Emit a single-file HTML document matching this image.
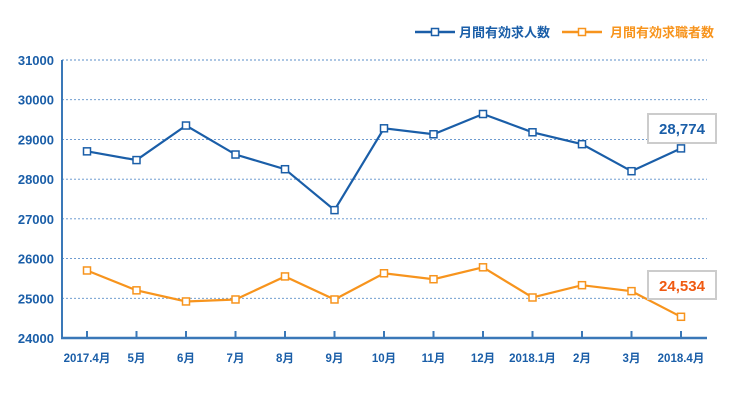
<!DOCTYPE html>
<html><head><meta charset="utf-8"><style>
body{margin:0;background:#fff;}
svg{display:block;font-family:"Liberation Sans","Noto Sans CJK JP",sans-serif;}
</style></head><body>
<svg width="740" height="400">
<g id="grid"></g><g id="axes"></g><g id="series"></g>
<g>
<g>
<line x1="415" y1="32" x2="455" y2="32" stroke="#1a5ea8" stroke-width="2.5"/>
<rect x="431.5" y="28.5" width="7" height="7" fill="#fff" stroke="#1a5ea8" stroke-width="1.5"/>
<text x="459" y="37" font-size="13" font-weight="bold" fill="#1a5ea8">月間有効求人数</text></g>
<g>
<line x1="562" y1="32" x2="602" y2="32" stroke="#f7941d" stroke-width="2.5"/>
<rect x="578.5" y="28.5" width="7" height="7" fill="#fff" stroke="#f7941d" stroke-width="1.5"/>
<text x="610" y="37" font-size="13" font-weight="bold" fill="#f7941d">月間有効求職者数</text></g>
</g>
<g>
<rect x="648" y="114" width="68" height="29" fill="#fff" stroke="#ccc" stroke-width="2"/>
<text x="682" y="134" text-anchor="middle" font-size="15" font-weight="bold" fill="#1a5ea8">28,774</text></g>
<g>
<rect x="648" y="271" width="68" height="28" fill="#fff" stroke="#ccc" stroke-width="2"/>
<text x="682" y="291" text-anchor="middle" font-size="15" font-weight="bold" fill="#f05a12">24,534</text></g>
</svg>
<script>
const categories=["2017.4月","5月","6月","7月","8月","9月","10月","11月","12月","2018.1月","2月","3月","2018.4月"];
const jobs=[28700,28480,29350,28620,28250,27220,29280,29130,29640,29180,28880,28200,28774];
const seekers=[25700,25200,24920,24970,25550,24970,25630,25480,25780,25020,25330,25180,24534];
const yTicks=[24000,25000,26000,27000,28000,29000,30000,31000];
const NS="http://www.w3.org/2000/svg";
const x0=62,x1=707,yBot=338,yTop=60,vMin=24000,vMax=31000;
const xs=i=>87+i*(681-87)/(categories.length-1);
const ys=v=>yBot-(v-vMin)/(vMax-vMin)*(yBot-yTop);
function mk(tag,attrs,parent){const e=document.createElementNS(NS,tag);for(const k in attrs)e.setAttribute(k,attrs[k]);parent.appendChild(e);return e;}
const grid=document.getElementById('grid'),axes=document.getElementById('axes'),ser=document.getElementById('series');
yTicks.forEach(v=>{
 if(v>vMin){const l=mk('line',{x1:x0,x2:x1,y1:ys(v),y2:ys(v),stroke:'#5b8fc9','stroke-width':0.9,'stroke-dasharray':'2,2'},grid);
 
 }
 const t=mk('text',{x:54,y:ys(v)+5,'text-anchor':'end','font-size':13,'font-weight':'bold',fill:'#1a5ea8'},axes);
 t.textContent=v;
 
 
});
const ya=mk('line',{x1:x0,x2:x0,y1:yTop,y2:yBot,stroke:'#3a78b8','stroke-width':2},axes);


const xa=mk('line',{x1:x0-1,x2:x1,y1:yBot,y2:yBot,stroke:'#3a78b8','stroke-width':2.5},axes);


categories.forEach((c,i)=>{
 const tk=mk('line',{x1:xs(i),x2:xs(i),y1:yBot-7,y2:yBot,stroke:'#3a78b8','stroke-width':2},axes);
 
 
 const t=mk('text',{x:xs(i),y:362,'text-anchor':'middle','font-size':11.5,'font-weight':'bold',fill:'#1a5ea8'},axes);
 t.textContent=c;
 
 
});
function drawSeries(vals,color,name){
 const p=mk('polyline',{points:vals.map((v,i)=>xs(i)+','+ys(v)).join(' '),fill:'none',stroke:color,'stroke-width':2.2},ser);
 
 
 vals.forEach((v,i)=>{
  const r=mk('rect',{x:xs(i)-3.5,y:ys(v)-3.5,width:7,height:7,fill:'#fff',stroke:color,'stroke-width':1.5},ser);
  
  
 });
}
drawSeries(jobs,'#1a5ea8','jobs');
drawSeries(seekers,'#f7941d','seekers');
</script>
</body></html>
